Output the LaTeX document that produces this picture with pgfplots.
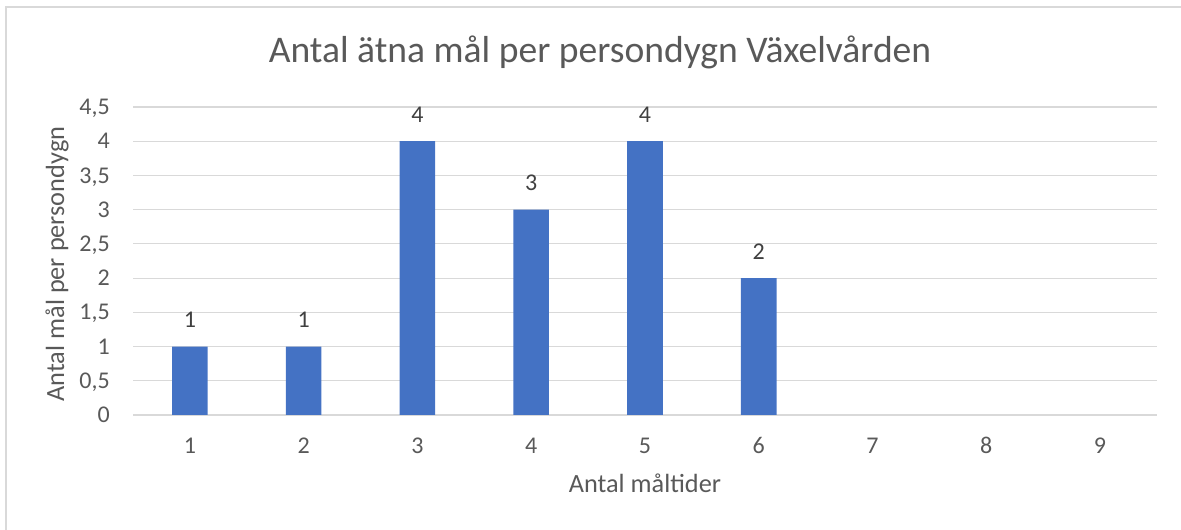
\documentclass[border=0pt]{standalone}
\usepackage{pgfplots}
\pgfplotsset{compat=1.18}
\usepackage{fontspec}
\setmainfont{Carlito}
\definecolor{barblue}{RGB}{68,114,196}
\definecolor{gridgray}{RGB}{217,217,217}
\definecolor{txtgray}{RGB}{89,89,89}
\definecolor{lblgray}{RGB}{64,64,64}
\begin{document}
\begin{tikzpicture}[x=1pt,y=1pt]
\path[use as bounding box] (0,0) rectangle (1181,530);
\draw[gridgray, line width=1.2pt] (6,0) -- (6,523) -- (1181,523);
\node[anchor=base, text=txtgray, font=\fontsize{37.6}{42}\selectfont, inner sep=0pt] at (600,467) {Antal ätna mål per persondygn Växelvården};
\begin{axis}[
  at={(133pt,115pt)}, anchor=south west,
  scale only axis, width=1024pt, height=308pt,
  xmin=0.5, xmax=9.5, ymin=0, ymax=4.5,
  xtick={1,2,3,4,5,6,7,8,9},
  ytick={0,0.5,1,1.5,2,2.5,3,3.5,4,4.5},
  /pgf/number format/use comma,
  /pgf/number format/assume math mode=true,
  axis line style={draw=none},
  major tick length=0pt,
  ymajorgrids,
  grid style={gridgray, line width=1.2pt},
  tick label style={font=\fontsize{24}{28}\selectfont, text=txtgray, inner sep=0pt},
  xticklabel style={anchor=base, yshift=-39pt},
  yticklabel style={anchor=base east, xshift=-23pt, yshift=-7.6pt},
  xlabel={Antal måltider},
  ylabel={Antal mål per persondygn},
  label style={font=\fontsize{26.3}{30}\selectfont, text=txtgray, inner sep=0pt},
  xlabel style={at={(axis description cs:0.5,-0.253)}, anchor=base},
  ylabel style={at={(axis description cs:-0.0742,0.49)}, anchor=center, rotate=0},
  clip=false,
]
\addplot[ybar, bar width=35.6pt, bar shift=0pt, fill=barblue, draw=none,
  nodes near coords,
  every node near coord/.append style={font=\fontsize{24}{28}\selectfont, text=lblgray, anchor=base, yshift=19pt, inner sep=0pt},
] coordinates {(1,1) (2,1) (3,4) (4,3) (5,4) (6,2)};
\end{axis}
\end{tikzpicture}
\end{document}
